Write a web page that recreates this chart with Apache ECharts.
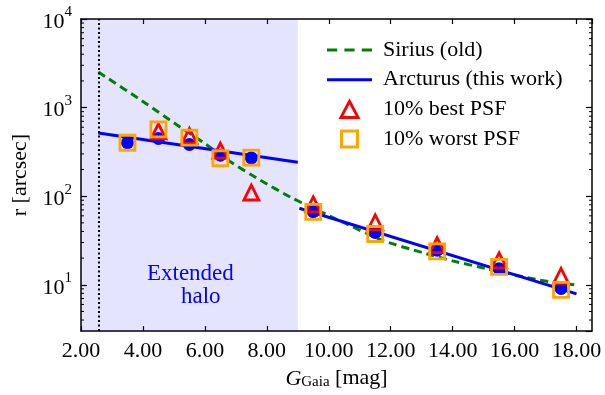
<!DOCTYPE html>
<html>
<head>
<meta charset="utf-8">
<script src="https://cdn.jsdelivr.net/npm/echarts@6/dist/echarts.min.js"></script>
<style>
html,body{margin:0;padding:0;background:#fff;}
#chart{width:605px;height:395px;}
</style>
</head>
<body>
<div id="chart"></div>
<script>
// ---- data ----
const magBins = [3.5, 4.5, 5.5, 6.5, 7.5, 9.5, 11.5, 13.5, 15.5, 17.5];
const arcturusPoints = [401, 448, 384, 290, 270, 67, 39, 24.6, 15.2, 9.1];
const bestPSF = ['-', 540, 480, 327, 110, 81, 50.5, 28.1, 18.9, 12.6];
const worstPSF = [401, 569, 459, 268, 273, 66.5, 37.4, 23.8, 15.9, 8.75];

const siriusX = [2.56, 4.12, 5.09, 5.95, 6.81, 7.77, 8.8, 10.35, 11.75, 13.04, 14.0, 15.1, 16.8, 18.0];
const siriusY = [2520, 1100, 641, 404, 246, 153, 96, 53, 31.5, 23, 18.6, 15.2, 11.3, 9.95];

const arcturusFit1X = [2.56, 9.0];
const arcturusFit1Y = [518, 242];
const arcturusFit2X = [9.05, 18.0];
const arcturusFit2Y = [73, 7.9];

const haloRange = [2, 9];
const dottedLineX = 2.56;
const haloLabelPos = [4.13, 9.7];

const xTicks = [2, 4, 6, 8, 10, 12, 14, 16, 18];
const yMajor = [10, 100, 1000, 10000];
const yMinor = [4, 5, 6, 7, 8, 9, 20, 30, 40, 50, 60, 70, 80, 90, 200, 300, 400, 500, 600, 700, 800, 900, 2000, 3000, 4000, 5000, 6000, 7000, 8000, 9000];

const xMin = 2, xMax = 18.5, yMin = 3, yMax = 10000;

const FONT = '"Liberation Serif", "DejaVu Serif", serif';
const zip = (a, b) => a.map((v, i) => [v, b[i]]);

const ICON_DASHED = 'path://M0,0h10v3h-10z M17,0h10v3h-10z M34,0h10v3h-10z';
const ICON_SOLID = 'path://M0,0h45v3h-45z';
const ICON_TRI = 'path://M8,0L16,15L0,15Z';
const ICON_SQ = 'path://M0,0h15v15h-15z';

const chart = echarts.init(document.getElementById('chart'), null, {renderer: 'canvas'});

const axisLineStyle = {show: true, lineStyle: {color: '#000', width: 1.5}};

const option = {
  animation: false,
  backgroundColor: '#fff',
  grid: {left: 81, top: 19, right: 13, bottom: 60, containLabel: false},
  legend: {
    orient: 'vertical',
    left: 322,
    top: 34,
    itemWidth: 45,
    itemHeight: 16,
    itemGap: 7.7,
    symbolKeepAspect: true,
    textStyle: {fontFamily: FONT, fontSize: 22, lineHeight: 22, color: '#000', padding: [0, 0, 0, 6]},
    data: [
      {name: 'Sirius (old)', icon: ICON_DASHED},
      {name: 'Arcturus (this work)', icon: ICON_SOLID},
      {name: '10% best PSF', icon: ICON_TRI, itemStyle: {color: 'rgba(0,0,0,0)', borderColor: '#ff0000', borderWidth: 3, opacity: 1}},
      {name: '10% worst PSF', icon: ICON_SQ, itemStyle: {color: 'rgba(0,0,0,0)', borderColor: '#ffa500', borderWidth: 3, opacity: 1}}
    ]
  },
  xAxis: [{
    type: 'value', min: xMin, max: xMax, interval: 2,
    axisLine: axisLineStyle,
    axisTick: {show: true, inside: true, length: 5, lineStyle: {color: '#000', width: 1.2}},
    axisLabel: {
      fontFamily: FONT, fontSize: 22, color: '#000', margin: 9, showMaxLabel: false,
      formatter: v => xTicks.indexOf(v) >= 0 ? v.toFixed(2) : ''
    },
    splitLine: {show: false},
    name: '{i|G}{s|Gaia} [mag]',
    nameLocation: 'middle',
    nameGap: 31,
    nameTextStyle: {
      fontFamily: FONT, fontSize: 22, color: '#000',
      rich: {
        i: {fontFamily: FONT, fontSize: 22, fontStyle: 'italic', color: '#000', verticalAlign: 'bottom', lineHeight: 24},
        s: {fontFamily: FONT, fontSize: 15, color: '#000', verticalAlign: 'bottom', lineHeight: 12}
      }
    }
  }, {
    type: 'value', min: xMin, max: xMax, interval: 2, position: 'top',
    axisLine: axisLineStyle,
    axisTick: {show: true, inside: true, length: 5, lineStyle: {color: '#000', width: 1.2}},
    axisLabel: {show: false},
    splitLine: {show: false}
  }],
  yAxis: [{
    type: 'log', min: yMin, max: yMax, logBase: 10,
    axisLine: axisLineStyle,
    axisTick: {show: true, inside: true, length: 6, lineStyle: {color: '#000', width: 1.2}},
    axisLabel: {
      margin: 9,
      showMinLabel: false,
      formatter: v => {
        const e = Math.round(Math.log10(v));
        if (yMajor.indexOf(v) < 0 && Math.abs(Math.pow(10, e) - v) > 1e-6) return '';
        return '{b|10}{s|' + e + '}';
      },
      rich: {
        b: {fontFamily: FONT, fontSize: 22, color: '#000', lineHeight: 28, verticalAlign: 'bottom'},
        s: {fontFamily: FONT, fontSize: 15, color: '#000', verticalAlign: 'top', lineHeight: 16}
      }
    },
    splitLine: {show: false},
    name: 'r [arcsec]',
    nameLocation: 'middle',
    nameGap: 50,
    nameTextStyle: {fontFamily: FONT, fontSize: 22, color: '#000'}
  }, {
    type: 'log', min: yMin, max: yMax, logBase: 10, position: 'right',
    axisLine: axisLineStyle,
    axisTick: {show: true, inside: true, length: 6, lineStyle: {color: '#000', width: 1.2}},
    axisLabel: {show: false},
    splitLine: {show: false}
  }],
  series: [
    {
      name: 'minorTicks',
      type: 'custom',
      silent: true,
      xAxisIndex: 0, yAxisIndex: 0,
      data: yMinor.map(v => [xMin, v]),
      renderItem: (params, api) => {
        const v = api.value(1);
        const pl = api.coord([xMin, v]);
        const pr = api.coord([xMax, v]);
        const st = {stroke: '#000', lineWidth: 1};
        return {
          type: 'group',
          children: [
            {type: 'line', shape: {x1: pl[0], y1: pl[1], x2: pl[0] + 3, y2: pl[1]}, style: st},
            {type: 'line', shape: {x1: pr[0], y1: pr[1], x2: pr[0] - 3, y2: pr[1]}, style: st}
          ]
        };
      },
      z: 10
    },
    {
      name: 'Sirius (old)',
      type: 'line',
      data: zip(siriusX, siriusY),
      symbol: 'none',
      smooth: 0.2,
      lineStyle: {color: '#008000', width: 3, type: [8, 5]},
      itemStyle: {color: '#008000'},
      markArea: {
        silent: true,
        itemStyle: {color: 'rgba(0,0,255,0.105)'},
        data: [[{xAxis: haloRange[0]}, {xAxis: haloRange[1]}]]
      },
      markLine: {
        silent: true,
        symbol: 'none',
        label: {show: false},
        lineStyle: {color: '#000', width: 2, type: [2, 2.5]},
        data: [{xAxis: dottedLineX}]
      },
      z: 3
    },
    {
      name: 'Arcturus (this work)',
      type: 'line',
      data: zip(arcturusFit1X, arcturusFit1Y),
      symbol: 'none',
      lineStyle: {color: '#0000ff', width: 3},
      itemStyle: {color: '#0000ff'},
      z: 3
    },
    {
      name: 'Arcturus (this work)',
      type: 'line',
      data: zip(arcturusFit2X, arcturusFit2Y),
      symbol: 'none',
      lineStyle: {color: '#0000ff', width: 3},
      itemStyle: {color: '#0000ff'},
      z: 3
    },
    {
      name: 'Arcturus data',
      type: 'scatter',
      data: zip(magBins, arcturusPoints),
      symbol: 'circle',
      symbolSize: 13,
      itemStyle: {color: '#0000ff', opacity: 1},
      markPoint: {
        symbolSize: 0,
        silent: true,
        data: [{coord: haloLabelPos}],
        label: {
          show: true,
          position: 'inside',
          align: 'left',
          formatter: '{a|Extended}\n{b|halo}',
          rich: {
            a: {fontFamily: FONT, fontSize: 23, color: '#0000ff', lineHeight: 23},
            b: {fontFamily: FONT, fontSize: 23, color: '#0000ff', lineHeight: 23, padding: [0, 0, 0, 34]}
          }
        }
      },
      z: 4
    },
    {
      name: '10% best PSF',
      type: 'scatter',
      data: zip(magBins, bestPSF),
      symbol: 'triangle',
      symbolSize: 15,
      itemStyle: {color: 'rgba(0,0,0,0)', borderColor: '#ff0000', borderWidth: 2.8, opacity: 1},
      z: 5
    },
    {
      name: '10% worst PSF',
      type: 'scatter',
      data: zip(magBins, worstPSF),
      symbol: 'rect',
      symbolSize: 15,
      itemStyle: {color: 'rgba(0,0,0,0)', borderColor: '#ffa500', borderWidth: 2.8, opacity: 1},
      z: 6
    }
  ]
};
chart.setOption(option);
</script>
</body>
</html>
